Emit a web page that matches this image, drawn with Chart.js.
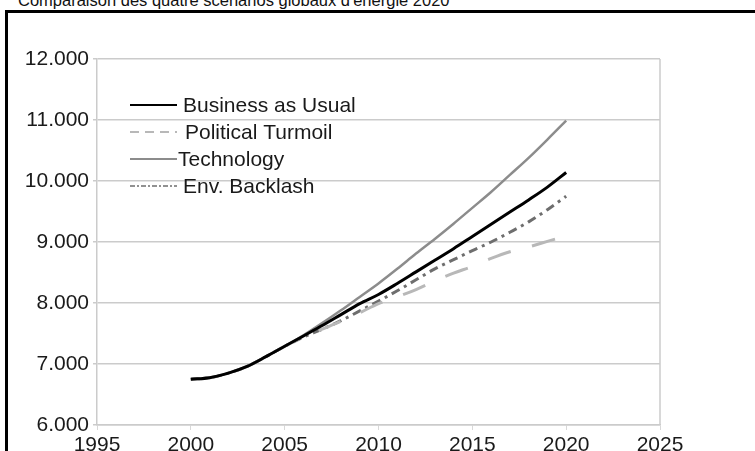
<!DOCTYPE html>
<html lang="fr">
<head>
<meta charset="utf-8">
<title>Comparaison des quatre scénarios globaux d'énergie 2020</title>
<script src="https://cdn.jsdelivr.net/npm/chart.js@4/dist/chart.umd.min.js"></script>
<style>
  html, body { margin: 0; padding: 0; background: #fff; overflow: hidden; }
  body { width: 755px; height: 451px; position: relative; font-family: "Liberation Sans", Arial, sans-serif; }
  #title { position: absolute; left: 18px; top: -8px; font-size: 16.5px; line-height: 16.5px; color: #111; white-space: nowrap; }
  #frame { position: absolute; left: 5px; top: 10px; width: 800px; height: 500px; border: 3px solid #000; }
  #wrap { position: absolute; left: 0; top: 0; width: 755px; height: 451px; }
</style>
</head>
<body>
<div id="title">Comparaison des quatre scénarios globaux d'énergie 2020</div>
<div id="frame"></div>
<div id="wrap"><canvas id="energyChart"></canvas></div>
<script>
const years = [2000, 2001, 2002, 2003, 2004, 2005, 2006, 2007, 2008, 2009, 2010,
  2011, 2012, 2013, 2014, 2015, 2016, 2017, 2018, 2019, 2020];
const businessAsUsual = [6750, 6775, 6850, 6960, 7120, 7290, 7460, 7630, 7810, 7990, 8140,
  8320, 8510, 8700, 8890, 9090, 9290, 9490, 9690, 9900, 10140];
const politicalTurmoil = [6750, 6775, 6850, 6960, 7120, 7290, 7440, 7570, 7700, 7840, 7990,
  8100, 8220, 8360, 8490, 8600, 8730, 8840, 8920, 9010, 9100];
const technology = [6750, 6775, 6850, 6960, 7120, 7290, 7470, 7670, 7880, 8100, 8320,
  8560, 8810, 9050, 9300, 9560, 9820, 10100, 10380, 10680, 10990];
const envBacklash = [6750, 6775, 6850, 6960, 7120, 7290, 7440, 7570, 7710, 7870, 8030,
  8200, 8380, 8560, 8710, 8860, 9000, 9160, 9330, 9530, 9750];
const seriesNames = ["Business as Usual", "Political Turmoil", "Technology", "Env. Backlash"];
const xTickLabels = ["1995", "2000", "2005", "2010", "2015", "2020", "2025"];
const yTickLabels = ["6.000", "7.000", "8.000", "9.000", "10.000", "11.000", "12.000"];

const FONT = '"Liberation Sans", Arial, sans-serif';
const GRID = "#cbcbcb";

function toPoints(values) {
  return years.map((yr, i) => ({ x: yr, y: values[i] }));
}

// legend drawn inside the plot, top-left, like the original
const insideLegend = {
  id: "insideLegend",
  afterDraw(chart) {
    const { ctx, chartArea } = chart;
    ctx.save();
    ctx.font = "21px " + FONT;
    ctx.textBaseline = "middle";
    ctx.fillStyle = "#1a1a1a";
    chart.data.datasets.forEach((ds, i) => {
      const y = chartArea.top + 46 + i * 27;
      const x0 = chartArea.left + 33;
      ctx.strokeStyle = ds.borderColor;
      ctx.lineWidth = ds.legendWidth;
      ctx.setLineDash(ds.legendDash);
      ctx.beginPath();
      ctx.moveTo(x0, y);
      ctx.lineTo(x0 + 47, y);
      ctx.stroke();
      ctx.setLineDash([]);
      ctx.fillText(ds.label, x0 + 47 + ds.legendGap, y + 1);
    });
    ctx.restore();
  },
};

const rightBorder = {
  id: "rightBorder",
  beforeDatasetsDraw(chart) {
    const { ctx, chartArea } = chart;
    ctx.save();
    ctx.strokeStyle = GRID;
    ctx.lineWidth = 1.5;
    ctx.beginPath();
    ctx.moveTo(chartArea.right, chartArea.top);
    ctx.lineTo(chartArea.right, chartArea.bottom);
    ctx.stroke();
    ctx.restore();
  },
};

new Chart(document.getElementById("energyChart"), {
  type: "line",
  data: {
    datasets: [
      {
        label: seriesNames[0],
        data: toPoints(businessAsUsual),
        borderColor: "#000000",
        borderWidth: 3,
        legendWidth: 2,
        legendDash: [],
        legendGap: 6,
      },
      {
        label: seriesNames[1],
        data: toPoints(politicalTurmoil),
        borderColor: "#b8b8b8",
        borderWidth: 3,
        borderDash: [24, 22],
        legendWidth: 2,
        legendDash: [9, 6],
        legendGap: 8,
      },
      {
        label: seriesNames[2],
        data: toPoints(technology),
        borderColor: "#8c8c8c",
        borderWidth: 2.5,
        legendWidth: 2,
        legendDash: [],
        legendGap: 1,
      },
      {
        label: seriesNames[3],
        data: toPoints(envBacklash),
        borderColor: "#6e6e6e",
        borderWidth: 3,
        borderDash: [9, 5, 3, 5],
        legendWidth: 1.5,
        legendDash: [5, 2, 2, 2],
        legendGap: 6,
      },
    ],
  },
  options: {
    responsive: true,
    maintainAspectRatio: false,
    animation: false,
    layout: { padding: { left: 0, top: 59, right: 95, bottom: 0 } },
    elements: {
      point: { radius: 0 },
      line: { tension: 0.3, cubicInterpolationMode: "monotone" },
    },
    plugins: {
      legend: { display: false },
      title: { display: false },
      tooltip: { enabled: false },
    },
    scales: {
      x: {
        type: "linear",
        min: 1995,
        max: 2025,
        afterFit: (scale) => { scale.height = 26; },
        ticks: {
          stepSize: 5,
          padding: 3,
          color: "#1a1a1a",
          font: { family: FONT, size: 21 },
          maxRotation: 0,
          callback: (value, index) => xTickLabels[index],
        },
        grid: { drawOnChartArea: false, color: "#d8d8d8", tickLength: 5 },
        border: { color: GRID, width: 1.5 },
      },
      y: {
        min: 6000,
        max: 12000,
        afterFit: (scale) => { scale.width = 97; },
        ticks: {
          stepSize: 1000,
          padding: 4,
          color: "#1a1a1a",
          font: { family: FONT, size: 21 },
          callback: (value, index) => yTickLabels[index],
        },
        grid: { color: GRID, lineWidth: 1.5, tickLength: 4 },
        border: { color: GRID, width: 1.5 },
      },
    },
  },
  plugins: [insideLegend, rightBorder],
});
</script>
</body>
</html>
